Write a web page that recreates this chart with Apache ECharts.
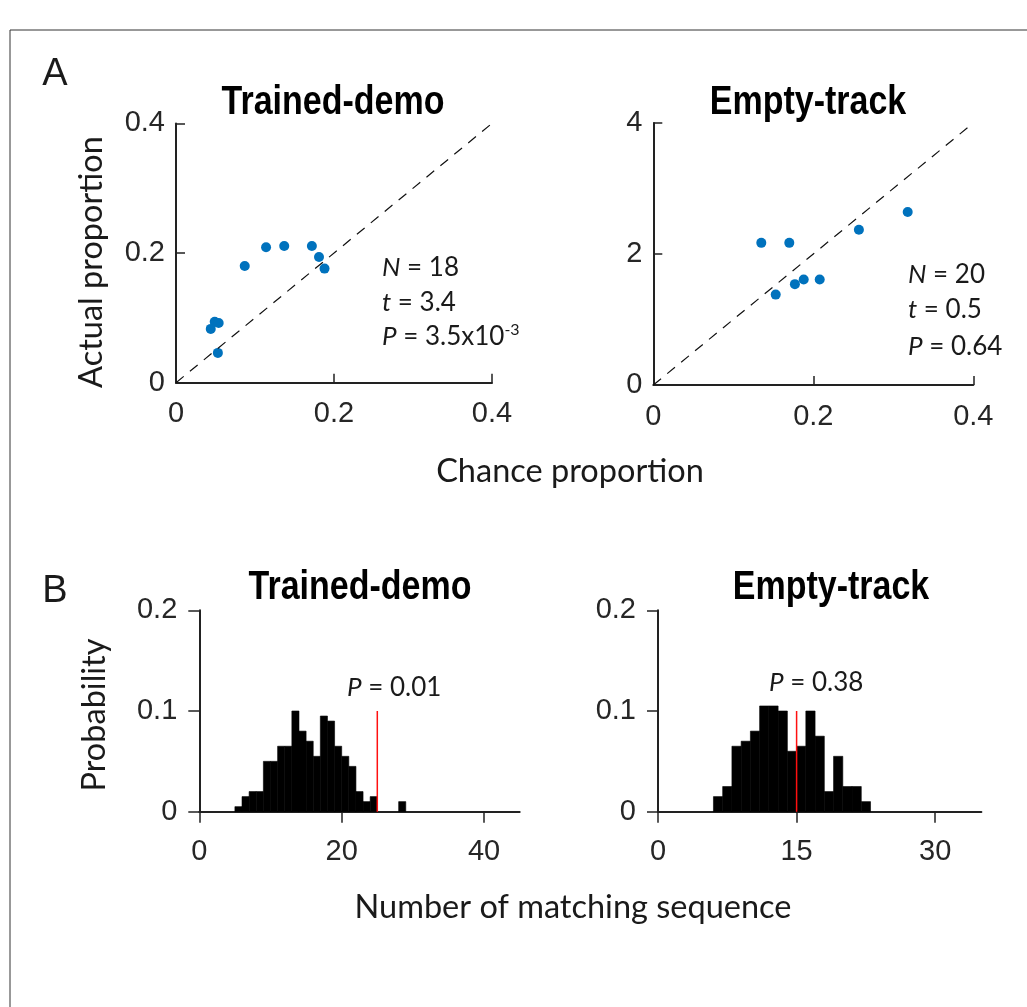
<!DOCTYPE html>
<html>
<head>
<meta charset="utf-8">
<script src="https://cdn.jsdelivr.net/npm/echarts@6/dist/echarts.min.js"></script>
<style>
html,body{margin:0;padding:0;background:#fff;}
#chart{width:1027px;height:1007px;}
</style>
</head>
<body>
<div id="chart"></div>
<script>
// ---------- Data ----------
// Panel A, Trained-demo: chance proportion vs actual proportion
const tdChance = [0.114, 0.137, 0.172, 0.181, 0.188, 0.087, 0.049, 0.054, 0.044, 0.053];
const tdActual = [0.209, 0.211, 0.211, 0.194, 0.176, 0.180, 0.094, 0.092, 0.083, 0.046];
// Panel A, Empty-track
const etChance = [0.135, 0.170, 0.257, 0.318, 0.153, 0.177, 0.188, 0.208];
const etActual = [2.17, 2.17, 2.37, 2.64, 1.38, 1.54, 1.61, 1.61];
// identity / reference lines
const tdDiag = [[0, 0], [0.4, 0.4]];
const etDiag = [[0, 0], [0.4, 4]];

// Panel B histograms: bin left edges (width 1) and probabilities
const tdBinLeft = [5, 6, 7, 8, 9, 10, 11, 12, 13, 14, 15, 16, 17, 18, 19, 20, 21, 22, 23, 24, 28];
const tdProb    = [0.005, 0.015, 0.02, 0.02, 0.05, 0.05, 0.065, 0.065, 0.1, 0.08, 0.07, 0.055, 0.095, 0.09, 0.065, 0.055, 0.045, 0.02, 0.01, 0.015, 0.01];
const etBinLeft = [6, 7, 8, 9, 10, 11, 12, 13, 14, 15, 16, 17, 18, 19, 20, 21, 22];
const etProb    = [0.015, 0.025, 0.065, 0.07, 0.08, 0.105, 0.105, 0.1, 0.06, 0.065, 0.1, 0.075, 0.02, 0.055, 0.025, 0.025, 0.01];
// observed values (red lines)
const tdObserved = 25;
const etObserved = 15;
const obsLineTop = 0.1;

// tick values
const topXTicks = [0, 0.2, 0.4];
const tdYTicks = [0, 0.2, 0.4];
const etYTicks = [0, 2, 4];
const probTicks = [0, 0.1, 0.2];
const tdHistXTicks = [0, 20, 40];
const etHistXTicks = [0, 15, 30];

// ---------- Styles ----------
const AXC = '#222';
const TICKFONT = 'Liberation Sans, Arial, sans-serif';
const CALFONT = 'Lato, Open Sans, sans-serif';
const TITLEFONT = 'Liberation Sans, Arial, sans-serif';

function valAxis(gi, min, max, ticks, inside, margin, tickLen) {
  return {
    type: 'value', gridIndex: gi, min: min, max: max,
    axisLine: {show: true, onZero: false, lineStyle: {color: AXC, width: 2}},
    axisTick: {show: true, inside: inside, length: tickLen, customValues: ticks, lineStyle: {color: AXC, width: 1.5}},
    axisLabel: {show: true, customValues: ticks, margin: margin, color: '#262626', fontFamily: TICKFONT, fontSize: 29},
    splitLine: {show: false}
  };
}

function histItem(params, api) {
  const x0 = api.value(0), h = api.value(1);
  const p0 = api.coord([x0, 0]);
  const p1 = api.coord([x0 + 1, h]);
  return {type: 'rect', shape: {x: p0[0], y: p1[1], width: p1[0] - p0[0], height: p0[1] - p1[1]},
          style: {fill: '#000', stroke: '#000', lineWidth: 0.6}};
}

function txt(x, y, text, opts, extra) {
  return Object.assign({type: 'text', x: x, y: y, style: Object.assign({text: text, fill: '#1a1a1a', align: 'center', verticalAlign: 'middle'}, opts || {})}, extra || {});
}
function statText(x, y, letter, rest, sup) {
  const rich = {
    i: {fontFamily: CALFONT, fontSize: 26, fontStyle: 'italic', fill: '#1a1a1a', lineHeight: 30},
    r: {fontFamily: CALFONT, fontSize: 26, fill: '#1a1a1a', lineHeight: 30},
    s: {fontFamily: CALFONT, fontSize: 16, fill: '#1a1a1a', verticalAlign: 'top', lineHeight: 30}
  };
  let t = '{i|' + letter + '}{r| = ' + rest + '}';
  if (sup) t += '{s|' + sup + '}';
  return {type: 'text', x: x, y: y, style: {text: t, rich: rich, align: 'left', verticalAlign: 'middle', fontFamily: CALFONT, fontSize: 26}};
}
const titleStyle = {fontFamily: TITLEFONT, fontSize: 40, fontWeight: 'bold', fill: '#000'};
const narrow = {scaleX: 0.85, scaleY: 1};

const chart = echarts.init(document.getElementById('chart'), null, {renderer: 'canvas'});
const option = {
  backgroundColor: '#fff',
  animation: false,
  grid: [
    {left: 176, top: 123.4, width: 316, height: 259.3},
    {left: 653.3, top: 123, width: 320, height: 262},
    {left: 199.3, top: 610.3, width: 320.4, height: 201.4},
    {left: 658, top: 610.3, width: 323.4, height: 201.4}
  ],
  xAxis: [
    valAxis(0, 0, 0.4, topXTicks, true, 17, 9),
    valAxis(1, 0, 0.4, topXTicks, true, 17, 9),
    valAxis(2, 0, 45, tdHistXTicks, false, 26, 11),
    valAxis(3, 0, 35, etHistXTicks, false, 26, 11)
  ],
  yAxis: [
    valAxis(0, 0, 0.4, tdYTicks, true, 11, 9),
    valAxis(1, 0, 4, etYTicks, true, 11, 9),
    valAxis(2, 0, 0.2, probTicks, false, 22, 11),
    valAxis(3, 0, 0.2, probTicks, false, 22, 11)
  ],
  series: [
    {type: 'line', xAxisIndex: 0, yAxisIndex: 0, data: tdDiag, symbol: 'none', silent: true,
     lineStyle: {color: '#111', width: 1.2, type: [10, 8]}},
    {type: 'scatter', xAxisIndex: 0, yAxisIndex: 0, data: tdChance.map((v, i) => [v, tdActual[i]]),
     symbolSize: 10, itemStyle: {color: '#0072BD', opacity: 1}},
    {type: 'line', xAxisIndex: 1, yAxisIndex: 1, data: etDiag, symbol: 'none', silent: true,
     lineStyle: {color: '#111', width: 1.2, type: [10, 8]}},
    {type: 'scatter', xAxisIndex: 1, yAxisIndex: 1, data: etChance.map((v, i) => [v, etActual[i]]),
     symbolSize: 10, itemStyle: {color: '#0072BD', opacity: 1}},
    {type: 'custom', xAxisIndex: 2, yAxisIndex: 2, data: tdBinLeft.map((v, i) => [v, tdProb[i]]),
     renderItem: histItem},
    {type: 'line', xAxisIndex: 2, yAxisIndex: 2, data: [[tdObserved, 0], [tdObserved, obsLineTop]], symbol: 'none', z: 5,
     lineStyle: {color: '#ff1010', width: 1.5}},
    {type: 'custom', xAxisIndex: 3, yAxisIndex: 3, data: etBinLeft.map((v, i) => [v, etProb[i]]),
     renderItem: histItem},
    {type: 'line', xAxisIndex: 3, yAxisIndex: 3, data: [[etObserved, 0], [etObserved, obsLineTop]], symbol: 'none', z: 5,
     lineStyle: {color: '#ff1010', width: 1.5}}
  ],
  graphic: [
    {type: 'rect', shape: {x: 10, y: 30, width: 1200, height: 1200}, style: {fill: 'none', stroke: '#333', lineWidth: 1}, silent: true},
    txt(55, 75, 'A', {fontFamily: TICKFONT, fontSize: 38}),
    txt(55, 592, 'B', {fontFamily: TICKFONT, fontSize: 38}),
    txt(333, 103, 'Trained-demo', titleStyle, narrow),
    txt(808, 103, 'Empty-track', titleStyle, narrow),
    txt(360, 588, 'Trained-demo', titleStyle, narrow),
    txt(831, 588, 'Empty-track', titleStyle, narrow),
    txt(92, 262, 'Actual proportion', {fontFamily: CALFONT, fontSize: 32.5}, {rotation: Math.PI / 2}),
    txt(570, 472, 'Chance proportion', {fontFamily: CALFONT, fontSize: 32.5}),
    txt(95, 715, 'Probability', {fontFamily: CALFONT, fontSize: 32.5}, {rotation: Math.PI / 2}),
    txt(573, 908, 'Number of matching sequence', {fontFamily: CALFONT, fontSize: 32.5}),
    statText(382, 268, 'N', '18'),
    statText(382, 303, 't', '3.4'),
    statText(382, 337, 'P', '3.5x10', '-3'),
    statText(908, 275, 'N', '20'),
    statText(908, 310, 't', '0.5'),
    statText(908, 347, 'P', '0.64'),
    statText(347, 688, 'P', '0.01'),
    statText(769, 683, 'P', '0.38')
  ]
};
chart.setOption(option);
</script>
</body>
</html>
